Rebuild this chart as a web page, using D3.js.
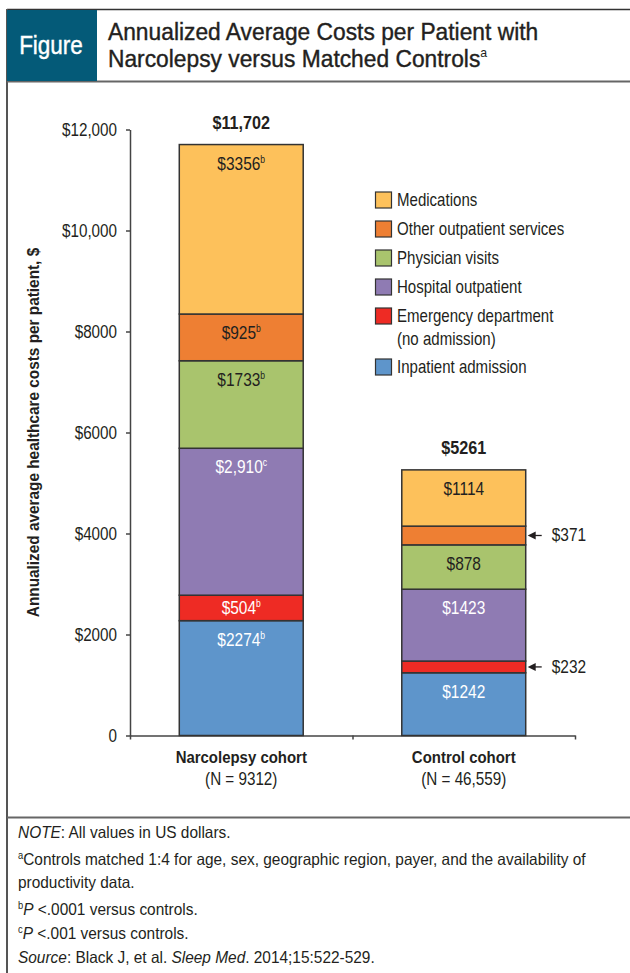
<!DOCTYPE html>
<html><head><meta charset="utf-8">
<script src="https://cdn.jsdelivr.net/npm/d3@7"></script>
<style>
body{margin:0;background:#fff;}
svg{display:block;font-family:"Liberation Sans",Arial,sans-serif;}
</style></head>
<body><svg id="c" width="630" height="973"></svg>
<script>
const categories = ["Narcolepsy cohort", "Control cohort"];
const categorySub = ["(N = 9312)", "(N = 46,559)"];
const totals = ["$11,702", "$5261"];
const seriesNames = ["Inpatient admission", "Emergency department|(no admission)", "Hospital outpatient", "Physician visits", "Other outpatient services", "Medications"];
const seriesColors = ["#5e95cb", "#ee2b24", "#8f7bb3", "#a9c46d", "#ee7f33", "#fdc15b"];
const labelColors = ["#fff", "#fff", "#fff", "#231f20", "#231f20", "#231f20"];
const narcolepsy = [2274, 504, 2910, 1733, 925, 3356];
const control = [1242, 232, 1423, 878, 371, 1114];
const narcolepsyLabels = ["$2274", "$504", "$2,910", "$1733", "$925", "$3356"];
const narcolepsySup = ["b", "b", "c", "b", "b", "b"];
const controlLabels = ["$1242", "$232", "$1423", "$878", "$371", "$1114"];
const controlSup = ["", "", "", "", "", ""];
const yTicks = [0, 2000, 4000, 6000, 8000, 10000, 12000];
const yTickLabels = ["0", "$2000", "$4000", "$6000", "$8000", "$10,000", "$12,000"];
const footnotes = [
  [["NOTE", "i"], [": All values in US dollars.", ""]],
  [["a", "sup"], ["Controls matched 1:4 for age, sex, geographic region, payer, and the availability of", ""]],
  [["productivity data.", ""]],
  [["b", "sup"], ["P", "i"], [" <.0001 versus controls.", ""]],
  [["c", "sup"], ["P", "i"], [" <.001 versus controls.", ""]],
  [["Source", "i"], [": Black J, et al. ", ""], ["Sleep Med", "i"], [". 2014;15:522-529.", ""]]
];

const svg = d3.select("#c");
const dark = "#231f20";
const S = 0.88; // horizontal condensing of the glyphs

function T(parent, x, y, opts) {
  const g = parent.append("g").attr("transform", `translate(${x},${y})${opts.rotate ? " rotate(" + opts.rotate + ")" : ""}`);
  const t = g.append("text").attr("transform", `scale(${opts.s || S},1)`)
    .attr("font-size", opts.size || 16).attr("fill", opts.fill || dark)
    .attr("text-anchor", opts.anchor || "start");
  if (opts.bold) t.attr("font-weight", "bold");
  if (opts.heavy) t.attr("stroke", opts.fill || dark).attr("stroke-width", opts.heavy);
  return t;
}

// frame
const frame = svg.append("g");
frame.append("line").attr("x1", 7).attr("x2", 630).attr("y1", 9.5).attr("y2", 9.5).attr("stroke", "#333").attr("stroke-width", 1.5);
frame.append("line").attr("x1", 7).attr("x2", 7).attr("y1", 9).attr("y2", 973).attr("stroke", "#555").attr("stroke-width", 2);
frame.append("line").attr("x1", 7).attr("x2", 630).attr("y1", 81.5).attr("y2", 81.5).attr("stroke", "#666").attr("stroke-width", 2);
frame.append("line").attr("x1", 7).attr("x2", 630).attr("y1", 817.5).attr("y2", 817.5).attr("stroke", "#666").attr("stroke-width", 2);
frame.append("rect").attr("x", 7).attr("y", 10).attr("width", 90).attr("height", 71).attr("fill", "#045a78");
T(frame, 51, 54, { size: 25, fill: "#fff", anchor: "middle", s: 0.9, heavy: 0.4 }).text("Figure");
T(frame, 108, 39.5, { size: 24, s: 0.95, heavy: 0.4 }).text("Annualized Average Costs per Patient with");
const t2 = T(frame, 108, 66.5, { size: 24, s: 0.95, heavy: 0.4 });
t2.append("tspan").text("Narcolepsy versus Matched Controls");
t2.append("tspan").attr("font-size", 13).attr("dy", -10).attr("stroke-width", 0).text("a");

// scales
const y = d3.scaleLinear().domain([0, 12000]).range([735.5, 129.5]);
const x = d3.scaleBand().domain(categories).range([130, 575]).paddingInner(0.443).paddingOuter(0.2215);

// axes
const yAxis = d3.axisLeft(y).tickValues(yTicks).tickFormat((d, i) => yTickLabels[i]).tickSize(4).tickSizeOuter(0);
const gy = svg.append("g").attr("transform", "translate(130,0)").call(yAxis).attr("font-family", null).attr("font-size", null);
gy.select(".domain").attr("stroke", "#444").attr("stroke-width", 1.5);
gy.selectAll(".tick line").attr("stroke", "#444").attr("stroke-width", 1.5);
gy.selectAll(".tick text").attr("font-size", 17.5).attr("fill", dark).attr("x", 0).attr("dy", "0.35em")
  .attr("transform", `translate(-13,0) scale(0.87,1)`);

const xb = d3.scaleLinear().domain([0, 2]).range([130, 575]);
const xAxis = d3.axisBottom(xb).tickValues([0, 1, 2]).tickFormat("").tickSize(4).tickSizeOuter(0);
const gx = svg.append("g").attr("transform", "translate(0,735.5)").call(xAxis);
gx.select(".domain").attr("stroke", "#444").attr("stroke-width", 1.5);
gx.selectAll(".tick line").attr("stroke", "#444").attr("stroke-width", 1.5);

// category labels
categories.forEach((c, i) => {
  const cx = x(c) + x.bandwidth() / 2;
  T(svg, cx, 763, { size: 17, bold: true, anchor: "middle" }).text(c);
  T(svg, cx, 785, { size: 17.5, anchor: "middle", s: 0.87 }).text(categorySub[i]);
});

// y title
T(svg, 39, (y(0) + y(12000)) / 2, { size: 16, bold: true, anchor: "middle", rotate: -90, s: 0.96 })
  .text("Annualized average healthcare costs per patient, $");

// stacked bars
const series = [narcolepsy, control];
const labels = [narcolepsyLabels, controlLabels];
const sups = [narcolepsySup, controlSup];
const rows = categories.map((c, i) => { const o = { cat: c }; seriesNames.forEach((s, k) => o[s] = series[i][k]); return o; });
const stacked = d3.stack().keys(seriesNames)(rows);

stacked.forEach((layer, k) => {
  layer.forEach((d, i) => {
    const top = y(d[1]), bot = y(d[0]);
    svg.append("rect").attr("x", x(categories[i])).attr("y", top).attr("width", x.bandwidth()).attr("height", bot - top)
      .attr("fill", seriesColors[k]).attr("stroke", "#333").attr("stroke-width", 1.5);
  });
});
stacked.forEach((layer, k) => {
  layer.forEach((d, i) => {
    const top = y(d[1]), bot = y(d[0]);
    const bx = x(categories[i]), bw = x.bandwidth();
    const h = bot - top;
    const lbl = labels[i][k], sup = sups[i][k];
    if (h >= 40 || i === 0) {
      const ty = h >= 40 ? top + 25 : (top + bot) / 2 + 6;
      const t = T(svg, bx + bw / 2, ty, { size: 18, anchor: "middle", fill: labelColors[k], s: 0.86 });
      t.append("tspan").text(lbl);
      if (sup) t.append("tspan").attr("font-size", 10).attr("dy", -7).text(sup);
    } else {
      const cy = (top + bot) / 2;
      const ax = bx + bw + 2;
      svg.append("line").attr("x1", ax + 5).attr("x2", ax + 14).attr("y1", cy).attr("y2", cy).attr("stroke", dark).attr("stroke-width", 1.3);
      svg.append("path").attr("d", `M${ax},${cy} L${ax + 8},${cy - 4} L${ax + 8},${cy + 4} Z`).attr("fill", dark);
      T(svg, ax + 24, cy + 6, { size: 18, s: 0.86 }).text(lbl);
    }
  });
});

// totals
categories.forEach((c, i) => {
  const sum = d3.sum(series[i]);
  T(svg, x(c) + x.bandwidth() / 2, y(sum) - 16, { size: 18, bold: true, anchor: "middle", s: 0.9 }).text(totals[i]);
});

// legend
const legendOrder = seriesNames.map((s, k) => k).reverse();
let ly = 192;
const lg = svg.append("g");
legendOrder.forEach(k => {
  const parts = seriesNames[k].split("|");
  lg.append("rect").attr("x", 375.5).attr("y", ly).attr("width", 16).attr("height", 16).attr("fill", seriesColors[k]).attr("stroke", "#333").attr("stroke-width", 1.2);
  const t = T(lg, 397, ly + 14, { size: 17.5, s: 0.86 });
  parts.forEach((p, j) => t.append("tspan").attr("x", 0).attr("dy", j ? 23 : 0).text(p));
  ly += 29 + (parts.length - 1) * 22;
});

// footnotes
const fBase = [838, 865, 888, 915, 939, 963];
footnotes.forEach((line, i) => {
  const t = T(svg, 18, fBase[i], { size: 16.5, s: 0.935 });
  let prevSup = false;
  line.forEach(([s, st]) => {
    const ts = t.append("tspan").text(s);
    if (st === "i") ts.attr("font-style", "italic");
    if (st === "sup") { ts.attr("font-size", 10).attr("dy", -6); prevSup = true; }
    else if (prevSup) { ts.attr("dy", 6); prevSup = false; }
  });
});
</script></body></html>
